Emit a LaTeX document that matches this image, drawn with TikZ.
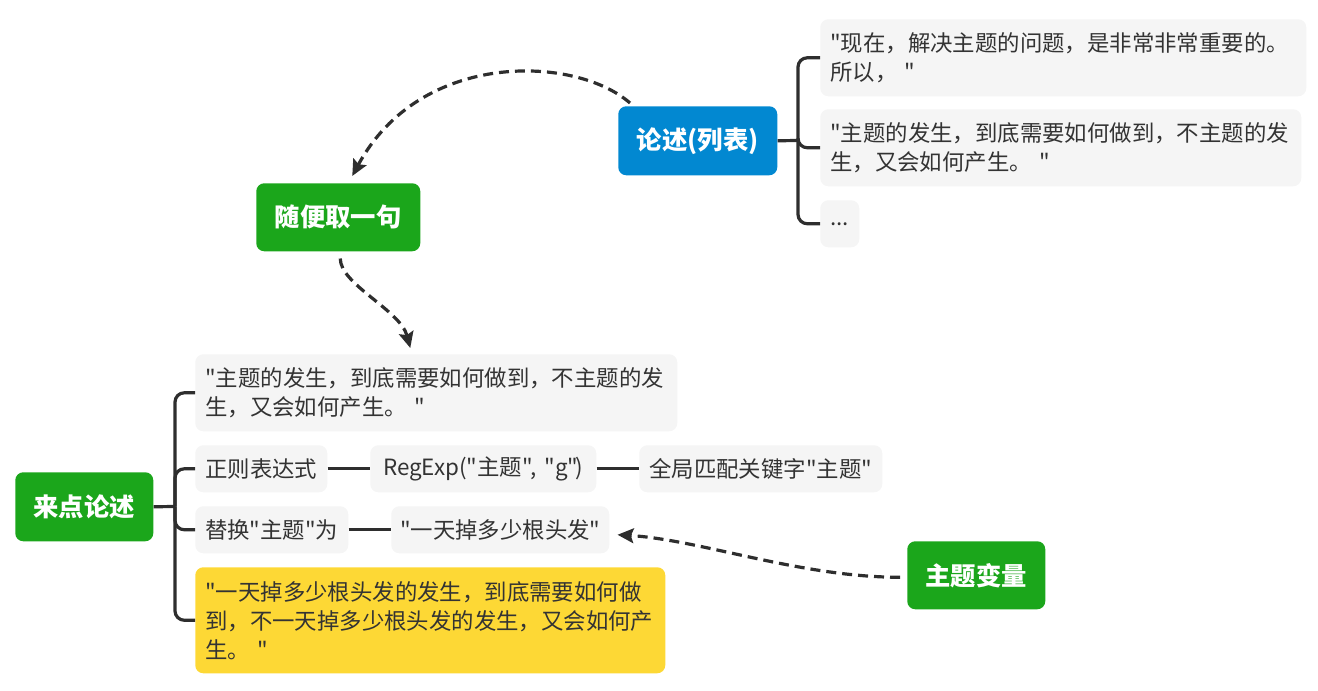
\documentclass[tikz,border=0pt]{standalone}
\usepackage{fontspec}
\newfontfamily\cjk{Noto Sans CJK SC}
\usetikzlibrary{arrows.meta}
\definecolor{mblue}{HTML}{0288D1}
\definecolor{mgreen}{HTML}{1BA61B}
\definecolor{mgray}{HTML}{F5F5F5}
\definecolor{myellow}{HTML}{FDD835}
\definecolor{mtext}{HTML}{333333}
\definecolor{mline}{HTML}{2E2E2E}
\newcommand\pxu{0.75pt}
\begin{document}
\begin{tikzpicture}[x=0.75pt,y=-0.75pt,
  topic/.style={rounded corners=6pt, text=white, anchor=north west, inner sep=0pt,
    font=\cjk\bfseries\fontsize{19}{23}\selectfont},
  leaf/.style={fill=mgray, rounded corners=6pt, text=mtext, anchor=north west, inner sep=0pt,
    font=\cjk\fontsize{16.8}{21.75}\selectfont},
  multi/.style={align=left, inner xsep=10*\pxu, text width=#1},
  conn/.style={draw=mline, line width=2.4pt},
  branch/.style={conn, rounded corners=7pt},
  dasharrow/.style={draw=mline, line width=2.4pt, dash pattern=on 7.5pt off 4.5pt,
    -{Stealth[length=12pt,width=11pt,inset=2pt]}}
]
\path[use as bounding box] (0,0) rectangle (1318,691);

% top right group
\node[topic, fill=mblue, minimum width=159*\pxu, minimum height=69*\pxu] (lunshu) at (618,106) {论述(列表)};
\node[leaf, multi=466*\pxu, minimum height=77*\pxu] (t1) at (820,19)
  {"现在，解决主题的问题，是非常非常重要的。\\所以， "};
\node[leaf, multi=461*\pxu, minimum height=77*\pxu] (t2) at (820,109)
  {"主题的发生，到底需要如何做到，不主题的发\\生，又会如何产生。 "};
\node[leaf, minimum width=39*\pxu, minimum height=47*\pxu] (t3) at (820,200) {...};
\coordinate (jR) at (798,140.5);
\draw[conn] (lunshu.east) -- (jR);
\draw[branch] (jR) |- (t1.west);
\draw[branch] (jR) |- (t2.west);
\draw[branch] (jR) |- (t3.west);

% middle
\node[topic, fill=mgreen, minimum width=164*\pxu, minimum height=68*\pxu] (suibian) at (256,183) {随便取一句};

% bottom left group
\node[topic, fill=mgreen, minimum width=138*\pxu, minimum height=69*\pxu] (lai) at (15,472) {来点论述};
\node[leaf, multi=462*\pxu, minimum height=77*\pxu] (A) at (195,354)
  {"主题的发生，到底需要如何做到，不主题的发\\生，又会如何产生。 "};
\node[leaf, minimum width=132*\pxu, minimum height=47*\pxu] (B) at (195,445) {正则表达式};
\node[leaf, minimum width=226*\pxu, minimum height=47*\pxu] (C) at (370,445) {RegExp("主题",\hspace{0.15em} "g"\kern-0.12em)};
\node[leaf, minimum width=243*\pxu, minimum height=47*\pxu] (D) at (639,445) {全局匹配关键字"主题"};
\node[leaf, minimum width=153*\pxu, minimum height=47*\pxu] (E) at (195,506) {替换"主题"为};
\node[leaf, minimum width=218*\pxu, minimum height=47*\pxu] (F) at (391,506) {"一天掉多少根头发"};
\node[leaf, fill=myellow, multi=450*\pxu, minimum height=106*\pxu] (G) at (195,567)
  {"一天掉多少根头发的发生，到底需要如何做\\到，不一天掉多少根头发的发生，又会如何产\\生。 "};
\coordinate (jL) at (175,506.5);
\draw[conn] (lai.east) -- (jL);
\draw[branch] (jL) |- (A.west);
\draw[branch] (jL) |- (B.west);
\draw[branch] (jL) |- (E.west);
\draw[branch] (jL) |- (G.west);
\draw[conn] (B.east) -- (C.west);
\draw[conn] (C.east) -- (D.west);
\draw[conn] (E.east) -- (F.west);

\node[topic, fill=mgreen, minimum width=138*\pxu, minimum height=68*\pxu] (bianliang) at (907,541) {主题变量};

% dashed arrows
\draw[dasharrow] ([shift={(12,-3)}]lunshu.north west) .. controls +(-55,-48) and +(68,-126) .. ([shift={(14,-7)}]suibian.north);
\draw[dasharrow] ([shift={(2,7)}]suibian.south) .. controls +(0,26) and +(-10,-38) .. ([shift={(-26,-6)}]A.north);
\draw[dasharrow] ([shift={(-7,2)}]bianliang.west) .. controls +(-100,0) and +(83,5) .. ([shift={(8,5)}]F.east);
\end{tikzpicture}
\end{document}
